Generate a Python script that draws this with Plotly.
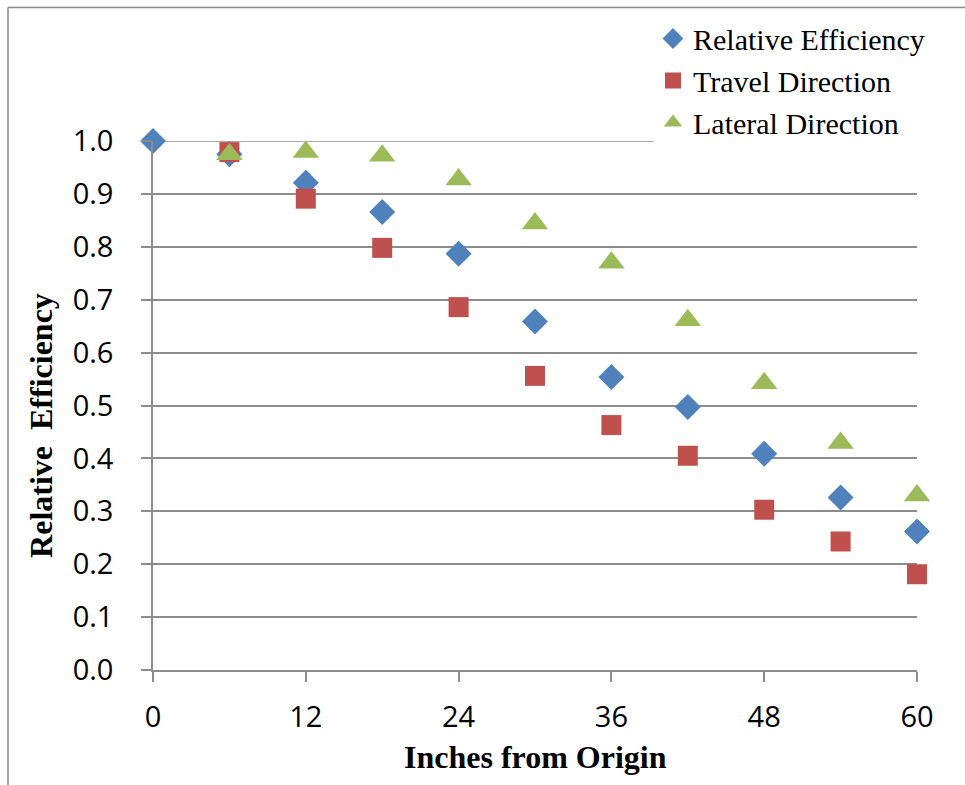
import plotly.graph_objects as go

# Distance from origin (inches) and measured efficiencies
inches_rel = [0, 6, 12, 18, 24, 30, 36, 42, 48, 54, 60]
relative_efficiency = [1.0, 0.975, 0.921, 0.866, 0.787, 0.659, 0.554, 0.497, 0.409, 0.326, 0.262]

inches_dir = [6, 12, 18, 24, 30, 36, 42, 48, 54, 60]
travel_direction = [0.979, 0.891, 0.798, 0.686, 0.556, 0.463, 0.405, 0.303, 0.243, 0.181]
lateral_direction = [0.975, 0.979, 0.972, 0.927, 0.844, 0.770, 0.661, 0.542, 0.429, 0.330]

x_ticks = [0, 12, 24, 36, 48, 60]
y_ticks = [round(i * 0.1, 1) for i in range(11)]
y_tick_labels = [f"{v:.1f}" for v in y_ticks]

BLUE = "#4F81BD"
RED = "#C0504D"
GREEN = "#9BBB59"
GRID = "#8C8C8C"

W, H = 965, 785
L, R, T, B = 153, 48, 139, 115
pw, ph = W - L - R, H - T - B


def px_x(p):
    return (p - L) / pw


def px_y(p):
    return (H - B - p) / ph


fig = go.Figure()
fig.add_trace(go.Scatter(
    x=inches_rel, y=relative_efficiency, mode="markers", name="Relative Efficiency",
    marker=dict(symbol="diamond", size=20, color=BLUE, line=dict(width=0)),
    cliponaxis=False,
))
fig.add_trace(go.Scatter(
    x=inches_dir, y=travel_direction, mode="markers", name="Travel Direction",
    marker=dict(symbol="square", size=20, color=RED, line=dict(width=0)),
    cliponaxis=False,
))
fig.add_trace(go.Scatter(
    x=inches_dir, y=lateral_direction, mode="markers", name="Lateral Direction",
    marker=dict(symbol="triangle-up", size=23, color=GREEN, line=dict(width=0)),
    cliponaxis=False,
))

fig.update_layout(
    width=W, height=H,
    margin=dict(l=L, r=R, t=T, b=B),
    paper_bgcolor="white", plot_bgcolor="white",
    showlegend=True,
    legend=dict(
        x=px_x(653), y=px_y(10), xanchor="left", yanchor="top",
        bgcolor="white", borderwidth=0,
        font=dict(family="Liberation Serif", size=30, color="black"),
        itemsizing="trace",
    ),
    xaxis=dict(
        range=[0, 60], tickvals=x_ticks, ticktext=[str(v) for v in x_ticks],
        showgrid=False, zeroline=False,
        showline=True, linecolor=GRID, linewidth=1.5,
        ticks="outside", ticklen=10, tickcolor=GRID, tickwidth=1.5,
        ticklabelstandoff=10,
        tickfont=dict(family="Open Sans", size=29, color="black"),
    ),
    yaxis=dict(
        range=[0, 1.0], tickvals=y_ticks, ticktext=y_tick_labels,
        showgrid=True, gridcolor=GRID, gridwidth=1.5, zeroline=False,
        showline=True, linecolor=GRID, linewidth=1.5,
        ticks="outside", ticklen=10, tickcolor=GRID, tickwidth=1.5,
        ticklabelstandoff=22,
        tickfont=dict(family="Open Sans", size=29, color="black"),
    ),
    annotations=[
        dict(text="<b>Inches from Origin</b>", xref="paper", yref="paper",
             x=px_x(535), y=px_y(757), xanchor="center", yanchor="middle",
             showarrow=False, font=dict(family="Liberation Serif", size=32, color="black")),
        dict(text="<b>Relative  Efficiency</b>", xref="paper", yref="paper",
             x=px_x(41), y=px_y(425), xanchor="center", yanchor="middle", textangle=-90,
             showarrow=False, font=dict(family="Liberation Serif", size=32, color="black")),
    ],
    shapes=[
        # top gridline at 1.0 (sits on the plot edge)
        dict(type="line", xref="x", yref="y", x0=0, x1=60, y0=1.0, y1=1.0,
             layer="below", line=dict(color=GRID, width=1.5)),
        # frame around the chart area
        dict(type="line", xref="paper", yref="paper",
             x0=px_x(8), x1=px_x(966), y0=px_y(5), y1=px_y(5),
             line=dict(color="#8A8A8A", width=1.5)),
        dict(type="line", xref="paper", yref="paper",
             x0=px_x(8), x1=px_x(8), y0=px_y(5), y1=px_y(786),
             line=dict(color="#8A8A8A", width=1.5)),
    ],
)

fig.write_html("out.html")
